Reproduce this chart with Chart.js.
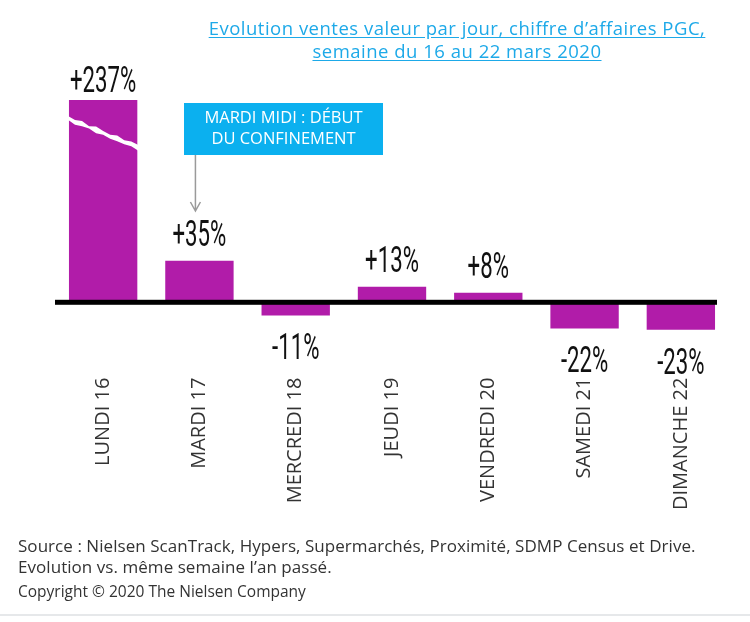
<!DOCTYPE html>
<html>
<head>
<meta charset="utf-8">
<script src="https://cdn.jsdelivr.net/npm/chart.js@4.4.1/dist/chart.umd.min.js"></script>
<style>
  html, body { margin: 0; padding: 0; background: #fff; }
  #wrap { position: relative; width: 750px; height: 622px; overflow: hidden; }
  #c { position: absolute; left: 0; top: 0; }
  .title { position: absolute; left: 100px; width: 714px; top: 16px; text-align: center;
    font-family: "Open Sans", sans-serif; font-size: 18.5px; line-height: 23px; color: #1da9e8;
    text-decoration: underline; text-underline-offset: 2px; letter-spacing: 0.5px; }
  .foot { position: absolute; left: 18px; font-family: "Open Sans", sans-serif; color: #333; }
  .rule { position: absolute; left: 0; width: 750px; top: 614px; height: 2px; background: #e6e8ea; }
</style>
</head>
<body>
<div id="wrap">
  <canvas id="c" width="750" height="622"></canvas>
  <div class="title">Evolution ventes valeur par jour, chiffre d’affaires PGC,<br>semaine du 16 au 22 mars 2020</div>
  <div class="foot" style="top:535px;font-size:17px;line-height:21px;letter-spacing:0.05px;">Source : Nielsen ScanTrack, Hypers, Supermarchés, Proximité, SDMP Census et Drive.<br>Evolution vs. même semaine l’an passé.</div>
  <div class="foot" style="top:580px;font-size:15.5px;">Copyright © 2020 The Nielsen Company</div>
  <div class="rule"></div>
</div>
<script>
const categories = ["LUNDI 16", "MARDI 17", "MERCREDI 18", "JEUDI 19", "VENDREDI 20", "SAMEDI 21", "DIMANCHE 22"];
const evolution = [237, 35, -11, 13, 8, -22, -23];
const valueLabels = ["+237%", "+35%", "-11%", "+13%", "+8%", "-22%", "-23%"];
const annotationLines = ["MARDI MIDI : DÉBUT", "DU CONFINEMENT"];
const annotationIndex = 1;
const yMin = -60;
const yMax = 170;

const BAR = "#b11ca9";

const overlay = {
  id: "overlay",
  afterDatasetsDraw(chart) {
    const ctx = chart.ctx;
    const area = chart.chartArea;
    const y = chart.scales.y;
    const meta = chart.getDatasetMeta(0);
    const zero = y.getPixelForValue(0);

    // break mark on clipped bars
    meta.data.forEach((bar, i) => {
      if (evolution[i] > yMax) {
        const l = bar.x - bar.width / 2 - 1, r = bar.x + bar.width / 2 + 1;
        const y0 = area.top + 18, y1 = area.top + 47;
        const pts = 10;
        ctx.save();
        ctx.fillStyle = "#fff";
        ctx.beginPath();
        const jit = [0, 1.2, -0.8, 1.5, -1, 0.6, 1.4, -0.9, 1, -0.5, 0];
        for (let k = 0; k <= pts; k++) {
          const t = k / pts;
          ctx.lineTo(l + (r - l) * t, y0 + (y1 - y0) * t + jit[k] - 2);
        }
        for (let k = pts; k >= 0; k--) {
          const t = k / pts;
          ctx.lineTo(l + (r - l) * t, y0 + (y1 - y0) * t - jit[(k + 3) % 11] * 0.8 + 3);
        }
        ctx.closePath();
        ctx.fill();
        ctx.restore();
      }
    });

    // baseline
    ctx.save();
    ctx.fillStyle = "#000";
    ctx.fillRect(area.left, zero - 2.5, area.right - area.left - 12, 5);
    ctx.restore();

    // value labels (condensed)
    meta.data.forEach((bar, i) => {
      const v = evolution[i];
      let base;
      if (v > yMax) base = area.top - 8;
      else if (v >= 0) base = Math.min(bar.y, zero - 2.5) - 15;
      else base = bar.y + 44;
      ctx.save();
      ctx.translate(bar.x, base);
      ctx.scale(0.6, 1);
      ctx.font = "37px Roboto";
      ctx.fillStyle = "#111";
      ctx.textAlign = "center";
      ctx.textBaseline = "alphabetic";
      ctx.fillText(valueLabels[i], 0, 0);
      ctx.restore();
    });

    // annotation
    const ab = meta.data[annotationIndex];
    const bx = 184, by = 103, bw = 199, bh = 52;
    ctx.save();
    ctx.fillStyle = "#0bb0ef";
    ctx.fillRect(bx, by, bw, bh);
    ctx.fillStyle = "#fff";
    ctx.font = "16.5px 'Open Sans'";
    ctx.textAlign = "center";
    ctx.textBaseline = "middle";
    ctx.fillText(annotationLines[0], bx + bw / 2, by + 15);
    ctx.fillText(annotationLines[1], bx + bw / 2, by + 36);
    ctx.strokeStyle = "#9a9a9a";
    ctx.lineWidth = 1.5;
    const ax = ab.x - 4;
    ctx.beginPath();
    ctx.moveTo(ax, by + bh);
    ctx.lineTo(ax, by + bh + 56);
    ctx.moveTo(ax - 5, by + bh + 47);
    ctx.lineTo(ax, by + bh + 56);
    ctx.lineTo(ax + 5, by + bh + 47);
    ctx.stroke();
    ctx.restore();
  }
};

new Chart(document.getElementById("c"), {
  type: "bar",
  data: {
    labels: categories,
    datasets: [{
      data: evolution,
      backgroundColor: BAR,
      borderWidth: 0,
      barPercentage: 0.71,
      categoryPercentage: 1.0
    }]
  },
  options: {
    responsive: false,
    animation: false,
    events: [],
    layout: { padding: { top: 100, left: 55, right: 21, bottom: 108 } },
    plugins: { legend: { display: false }, tooltip: { enabled: false } },
    scales: {
      x: {
        grid: { display: false, drawTicks: false },
        border: { display: false },
        ticks: {
          minRotation: 90, maxRotation: 90, padding: 4,
          color: "#333",
          font: { family: "'Open Sans'", size: 20 }
        }
      },
      y: {
        display: false,
        min: yMin,
        max: yMax
      }
    }
  },
  plugins: [overlay]
});
</script>
</body>
</html>
